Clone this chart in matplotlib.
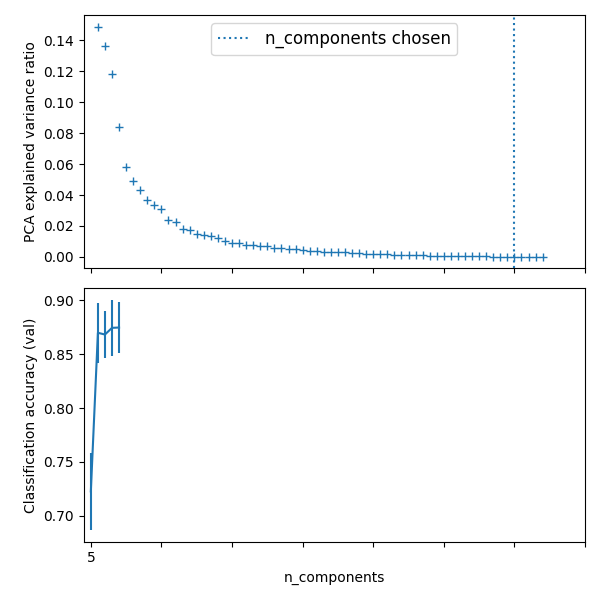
import numpy as np
import matplotlib
matplotlib.use("Agg")
import matplotlib.pyplot as plt

explained_variance_ratio = [
    0.1489, 0.1362, 0.1179, 0.0841, 0.0578, 0.0492, 0.0432, 0.0366, 0.0335, 0.0308,
    0.0237, 0.0227, 0.0182, 0.0177, 0.0147, 0.0141, 0.0132, 0.0125, 0.0102, 0.0091,
    0.0089, 0.0080, 0.0077, 0.0072, 0.0070, 0.0060, 0.0058, 0.0052, 0.0049, 0.0043,
    0.0037, 0.0035, 0.0034, 0.0033, 0.0031, 0.0029, 0.0026, 0.0023, 0.0022, 0.0021,
    0.0019, 0.0016, 0.0015, 0.0014, 0.0012, 0.0011, 0.0010, 0.0009, 0.0008, 0.0006,
    0.0006, 0.0005, 0.0004, 0.0004, 0.0004, 0.0003, 0.0002, 0.0001, 0.0001, 0.0000,
    0.0000, 0.0000, 0.0000, 0.0000,
]
n_components_chosen = 60
grid_n_components = [5, 15, 30, 45, 60]
mean_test_score = [0.7227, 0.8698, 0.8682, 0.8744, 0.8747]
std_test_score = [0.036, 0.028, 0.022, 0.026, 0.0235]
x_tick_labels = ["5", "", "", "", "", "", "", ""]

fig, (ax0, ax1) = plt.subplots(nrows=2, sharex=True, figsize=(6, 6), dpi=100)

comp_idx = np.arange(1, len(explained_variance_ratio) + 1)
ax0.plot(comp_idx, explained_variance_ratio, "+", linewidth=2)
ax0.set_ylabel("PCA explained variance ratio")
ax0.axvline(n_components_chosen, linestyle=":", label="n_components chosen")
ax0.legend(prop=dict(size=12), loc="upper center")

pos = np.arange(len(grid_n_components))
ax1.errorbar(pos, mean_test_score, yerr=std_test_score, color="C0")
ax1.set_ylabel("Classification accuracy (val)")
ax1.set_xlabel("n_components")

ax1.set_xticks(np.arange(0, 71, 10))
ax1.set_xticklabels(x_tick_labels)
ax1.set_xlim(-1, 70)

plt.tight_layout()
fig.savefig("out.png", dpi=100)
